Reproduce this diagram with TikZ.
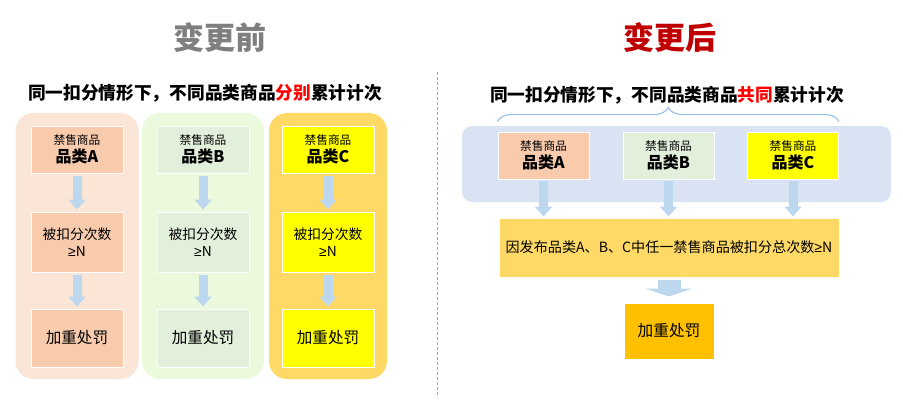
\documentclass[tikz,border=0pt]{standalone}
\usepackage{fontspec}
\setmainfont{Noto Sans CJK SC}
\newfontfamily\cgsym{Liberation Sans}
\usetikzlibrary{arrows.meta}
\usetikzlibrary{positioning}
\usetikzlibrary{decorations.pathreplacing}
\definecolor{cg-gray}{HTML}{7F7F7F}
\definecolor{cg-red}{HTML}{C00000}
\definecolor{cg-hot}{HTML}{FF0000}
\definecolor{cg-arrow}{HTML}{BDD7EE}
\definecolor{cg-brace}{HTML}{9DC3E6}
\definecolor{cg-peach}{HTML}{FBE5D6}
\definecolor{cg-peachbox}{HTML}{F8CBAD}
\definecolor{cg-mint}{HTML}{EBFADD}
\definecolor{cg-mintbox}{HTML}{E2EFDA}
\definecolor{cg-gold}{HTML}{FFD966}
\definecolor{cg-yellow}{HTML}{FFFF00}
\definecolor{cg-amber}{HTML}{FFC000}
\definecolor{cg-blue}{HTML}{DAE3F3}
\newcommand{\cgsize}[2]{\fontsize{#1}{#2}\selectfont}
\newcommand{\cgge}{{\cgsym ≥}}

\begin{document}
\begin{tikzpicture}[x=1pt, y=-1pt,
    box/.style={draw=white, line width=1pt, align=center, inner sep=0pt, text=black},
    flow/.style={cg-arrow, line width=9pt, -{Triangle[length=10pt, width=17pt]}, shorten <=2pt, shorten >=2pt},
    wideflow/.style={cg-arrow, line width=23pt, -{Triangle[length=8pt, width=47pt]}, shorten <=2pt, shorten >=6pt}]
    \useasboundingbox (0,0) rectangle (903,404);

    % --- Left half: before the change ---
    \node[font=\cgsize{31}{36}\bfseries, text=cg-gray] (before) at (220,38) {变更前};
    \node[font=\cgsize{17.7}{20}\bfseries] (ruleL) at (205,93)
        {同一扣分情形下，不同品类商品\textcolor{cg-hot}{分别}累计计次};
    \foreach \cx/\bg/\bx/\bgw/\cat in {77/cg-peach/cg-peachbox/123/A, 203/cg-mint/cg-mintbox/122/B, 328/cg-gold/cg-yellow/118/C} {
        \fill[\bg, rounded corners=18pt] (\cx-\bgw/2,113) rectangle (\cx+\bgw/2,379);
        \node[box, fill=\bx, minimum width=92pt, minimum height=47pt, font=\cgsize{11.7}{17.5}] (cat\cat) at (\cx,149.5)
            {禁售商品\\{\cgsize{16}{17.5}\bfseries 品类\cat}};
        \node[box, fill=\bx, minimum width=92pt, minimum height=60pt, font=\cgsize{13.8}{17}] (count\cat) at (\cx,242)
            {被扣分次数\\\cgge N};
        \node[box, fill=\bx, minimum width=92pt, minimum height=58pt, font=\cgsize{15.6}{18}] (penalty\cat) at (\cx,338)
            {加重处罚};
        \draw[flow] (cat\cat) -- (count\cat);
        \draw[flow] (count\cat) -- (penalty\cat);
    }

    % --- Divider ---
    \draw[gray!70, line width=0.8pt, dash pattern=on 3pt off 2pt] (437,72) -- (437,397);

    % --- Right half: after the change ---
    \node[font=\cgsize{31}{36}\bfseries, text=cg-red] (after) at (670,38) {变更后};
    \node[font=\cgsize{17.7}{20}\bfseries] (ruleR) at (667,95)
        {同一扣分情形下，不同品类商品\textcolor{cg-hot}{共同}累计计次};
    \fill[cg-blue, rounded corners=10pt] (462,126) rectangle (891,202);
    \foreach \cx/\bx/\cat in {543.5/cg-peachbox/A, 668.5/cg-mintbox/B, 793/cg-yellow/C} {
        \node[box, fill=\bx, minimum width=91pt, minimum height=47pt, font=\cgsize{11.7}{17.5}] (rcat\cat) at (\cx,155.5)
            {禁售商品\\{\cgsize{16}{17.5}\bfseries 品类\cat}};
    }
    \draw[cg-brace, line width=1.2pt, decorate, decoration={brace, amplitude=14pt}]
        ([yshift=10pt]rcatA.north west) -- ([yshift=10pt]rcatC.north east);
    \node[box, fill=cg-gold, minimum width=340pt, minimum height=59pt, font=\cgsize{14.1}{17}] (total) at (669,247.5)
        {因发布品类A、B、C中任一禁售商品被扣分总次数\cgge N};
    \node[box, fill=cg-amber, minimum width=90pt, minimum height=56pt, font=\cgsize{15.7}{18}] (penalty) at (669,331)
        {加重处罚};
    \foreach \cat in {A,B,C}
        \draw[flow, shorten <=1pt, shorten >=1pt] (rcat\cat) -- (rcat\cat |- total.north);
    \draw[wideflow] (total) -- (penalty);
\end{tikzpicture}
\end{document}
